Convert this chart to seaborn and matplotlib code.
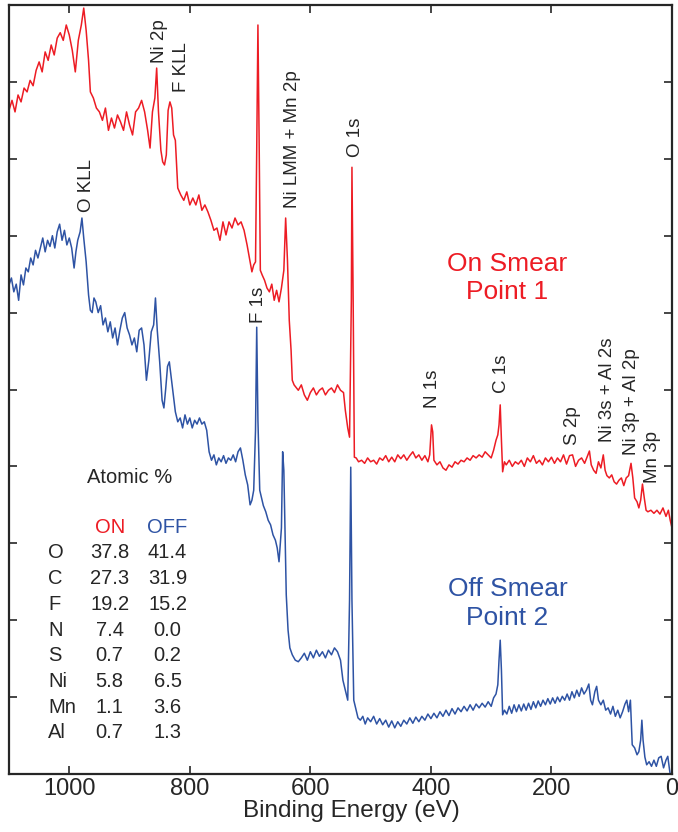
import numpy as np
import pandas as pd
import seaborn as sns
import matplotlib.pyplot as plt

# binding energy (eV) and intensity (arb. units)
on_ev = [1100, 1095, 1090, 1085, 1080, 1075, 1070, 1065, 1060, 1055, 1050, 1045, 1040, 1035, 1030, 1025,
         1020, 1015, 1010, 1005, 1000, 995, 990, 985, 980, 976, 972, 968, 965, 960, 955, 950, 945, 940,
         935, 930, 925, 920, 915, 910, 905, 900, 895, 890, 885, 880, 875, 870, 866, 862, 858, 855, 852,
         848, 845, 842, 839, 836, 833, 830, 827, 824, 820, 815, 810, 805, 800, 795, 790, 785, 780, 775,
         770, 765, 760, 755, 750, 745, 740, 735, 730, 725, 720, 715, 710, 705, 700, 697, 694, 691, 689,
         687, 685, 683, 680, 676, 672, 668, 664, 660, 656, 652, 648, 644, 641, 638, 635, 632, 630, 627,
         620, 615, 610, 605, 600, 595, 590, 585, 580, 575, 570, 565, 560, 555, 550, 545, 542, 538, 535,
         532, 531, 529, 527, 524, 520, 515, 510, 505, 500, 495, 490, 485, 480, 475, 470, 465, 460, 455,
         450, 445, 440, 435, 430, 425, 420, 415, 410, 405, 402, 399, 397, 395, 390, 385, 380, 375, 370,
         365, 360, 355, 350, 345, 340, 335, 330, 325, 320, 315, 310, 305, 300, 296, 292, 289, 287, 285,
         283, 281, 278, 275, 270, 265, 260, 255, 250, 245, 240, 235, 230, 225, 220, 215, 210, 205, 200,
         195, 190, 185, 180, 175, 170, 165, 160, 155, 150, 145, 140, 137, 134, 130, 126, 122, 118, 114,
         111, 108, 104, 100, 96, 92, 88, 84, 80, 76, 72, 68, 65, 62, 58, 55, 52, 49, 46, 43, 40, 35, 30,
         25, 20, 15, 10, 6, 3, 0]
on_int = [8.63, 8.76, 8.61, 8.83, 8.74, 8.92, 8.87, 9.02, 8.95, 9.15, 9.26, 9.13, 9.39, 9.28, 9.48, 9.35,
          9.57, 9.64, 9.54, 9.74, 9.61, 9.41, 9.13, 9.54, 9.74, 9.96, 9.67, 9.28, 8.87, 8.79, 8.66, 8.61,
          8.50, 8.66, 8.37, 8.53, 8.40, 8.57, 8.48, 8.37, 8.61, 8.44, 8.31, 8.61, 8.66, 8.76, 8.61, 8.37,
          8.14, 8.61, 8.79, 9.18, 8.61, 8.11, 7.96, 7.92, 8.05, 8.63, 8.74, 8.66, 8.31, 8.24, 7.62, 7.53,
          7.46, 7.57, 7.40, 7.49, 7.40, 7.53, 7.33, 7.40, 7.31, 7.20, 7.07, 7.10, 6.94, 7.18, 7.01, 7.18,
          7.10, 7.23, 7.14, 7.18, 7.07, 6.88, 6.66, 6.53, 6.62, 6.66, 8.11, 9.74, 8.24, 6.55, 6.49, 6.42,
          6.32, 6.27, 6.37, 6.16, 6.29, 6.14, 6.32, 6.55, 7.23, 6.68, 5.90, 5.51, 5.12, 5.06, 4.99, 5.06,
          4.93, 4.86, 4.96, 5.02, 4.93, 4.99, 5.02, 4.93, 4.99, 5.02, 4.96, 5.06, 4.99, 4.96, 4.73, 4.50,
          4.38, 6.16, 7.89, 6.16, 4.12, 4.11, 4.06, 4.08, 4.04, 4.11, 4.06, 4.08, 4.03, 4.11, 4.08, 4.14,
          4.06, 4.12, 4.06, 4.15, 4.10, 4.15, 4.08, 4.14, 4.19, 4.11, 4.15, 4.08, 4.14, 4.06, 4.15, 4.54,
          4.45, 4.08, 4.02, 4.06, 3.98, 3.95, 4.02, 3.99, 4.06, 4.03, 4.08, 4.06, 4.11, 4.08, 4.14, 4.11,
          4.15, 4.12, 4.19, 4.15, 4.11, 4.21, 4.34, 4.41, 4.54, 4.80, 4.34, 3.93, 4.06, 4.02, 4.08, 4.00,
          4.06, 4.03, 4.08, 4.00, 4.11, 4.06, 4.14, 4.04, 4.08, 4.02, 4.11, 4.06, 4.12, 4.04, 4.11, 4.06,
          4.15, 4.03, 4.14, 4.15, 4.00, 4.08, 4.11, 4.04, 4.14, 4.20, 4.02, 3.95, 3.91, 4.06, 3.98, 4.15,
          3.95, 3.88, 3.85, 3.89, 3.80, 3.77, 3.82, 3.85, 3.75, 3.85, 3.88, 4.04, 3.85, 3.59, 3.54, 3.46,
          3.56, 3.77, 3.59, 3.43, 3.41, 3.43, 3.39, 3.43, 3.38, 3.46, 3.35, 3.43, 3.30, 3.20]

off_ev = [1100, 1096, 1092, 1088, 1084, 1080, 1076, 1072, 1068, 1064, 1060, 1056, 1052, 1048, 1044, 1040,
          1036, 1032, 1028, 1024, 1020, 1016, 1012, 1008, 1004, 1000, 996, 992, 989, 986, 982, 979, 976,
          972, 968, 965, 962, 959, 956, 952, 948, 944, 940, 936, 932, 928, 924, 920, 916, 912, 908, 904,
          900, 896, 892, 888, 884, 880, 876, 872, 868, 864, 860, 857, 854, 850, 846, 843, 840, 837, 834,
          831, 828, 824, 820, 816, 812, 808, 804, 800, 796, 792, 788, 784, 780, 776, 772, 768, 764, 760,
          756, 752, 748, 744, 740, 736, 732, 728, 724, 720, 716, 712, 708, 704, 700, 697, 694, 691, 689,
          687, 684, 681, 678, 674, 670, 666, 662, 658, 655, 652, 650, 648, 646, 644, 642, 640, 637, 634,
          630, 625, 620, 615, 610, 605, 600, 595, 590, 585, 580, 575, 570, 565, 560, 555, 550, 546, 542,
          538, 535, 533, 531, 528, 525, 521, 517, 513, 509, 505, 500, 495, 490, 485, 480, 475, 470, 465,
          460, 455, 450, 445, 440, 435, 430, 425, 420, 415, 410, 405, 400, 395, 390, 385, 380, 375, 370,
          365, 360, 355, 350, 345, 340, 335, 330, 325, 320, 315, 310, 305, 300, 296, 292, 289, 287, 285,
          283, 281, 278, 274, 270, 266, 262, 258, 254, 250, 246, 242, 238, 234, 230, 226, 222, 218, 214,
          210, 206, 202, 198, 194, 190, 186, 182, 178, 174, 170, 166, 162, 158, 154, 150, 146, 142, 138,
          135, 132, 128, 125, 122, 118, 114, 110, 106, 102, 98, 94, 90, 86, 82, 78, 75, 72, 69, 66, 62,
          58, 55, 52, 50, 48, 45, 42, 38, 34, 30, 26, 22, 18, 14, 10, 7, 4, 2, 0]
off_int = [6.36, 6.45, 6.27, 6.37, 6.16, 6.49, 6.36, 6.58, 6.53, 6.71, 6.62, 6.81, 6.71, 6.84, 6.97, 6.79,
           6.94, 6.86, 7.00, 6.84, 7.05, 7.15, 6.94, 7.07, 6.88, 6.97, 6.84, 6.58, 6.79, 6.94, 7.05, 7.23,
           6.97, 6.66, 6.23, 6.03, 6.00, 6.19, 6.14, 6.00, 6.09, 5.84, 5.93, 5.75, 5.88, 5.67, 5.80, 5.58,
           5.77, 5.93, 6.00, 5.80, 5.71, 5.58, 5.67, 5.49, 5.77, 5.80, 5.58, 5.12, 5.38, 5.75, 5.84, 6.19,
           5.77, 5.36, 4.86, 4.76, 5.01, 5.30, 5.36, 5.17, 4.97, 4.71, 4.58, 4.63, 4.50, 4.67, 4.55, 4.63,
           4.50, 4.60, 4.55, 4.63, 4.55, 4.58, 4.47, 4.19, 4.08, 4.15, 4.02, 4.11, 4.06, 4.14, 4.04, 4.11,
           4.08, 4.15, 4.06, 4.19, 4.24, 4.08, 3.89, 3.76, 3.50, 3.56, 3.69, 4.47, 5.81, 4.60, 3.69, 3.59,
           3.49, 3.41, 3.30, 3.24, 3.11, 3.04, 2.94, 2.76, 2.98, 3.20, 4.19, 3.95, 3.17, 2.33, 1.87, 1.64,
           1.55, 1.48, 1.46, 1.51, 1.57, 1.48, 1.59, 1.51, 1.61, 1.53, 1.59, 1.51, 1.61, 1.55, 1.64, 1.59,
           1.48, 1.22, 1.09, 0.96, 2.26, 3.99, 2.26, 0.96, 0.86, 0.73, 0.70, 0.75, 0.65, 0.73, 0.68, 0.75,
           0.65, 0.72, 0.64, 0.70, 0.61, 0.69, 0.60, 0.68, 0.62, 0.70, 0.65, 0.73, 0.66, 0.74, 0.68, 0.75,
           0.70, 0.78, 0.72, 0.79, 0.73, 0.81, 0.75, 0.83, 0.76, 0.85, 0.78, 0.86, 0.81, 0.88, 0.82, 0.90,
           0.83, 0.91, 0.86, 0.92, 0.87, 0.94, 0.88, 0.99, 1.04, 1.16, 1.48, 1.74, 1.35, 0.77, 0.83, 0.78,
           0.88, 0.79, 0.90, 0.81, 0.90, 0.82, 0.91, 0.83, 0.92, 0.84, 0.94, 0.86, 0.95, 0.88, 0.96, 0.90,
           0.98, 0.91, 0.99, 0.92, 1.00, 0.94, 1.01, 0.96, 1.04, 0.96, 1.07, 0.99, 1.09, 1.01, 1.12, 1.04,
           1.09, 1.17, 0.96, 0.90, 1.07, 1.14, 0.96, 0.90, 0.96, 0.83, 0.86, 0.78, 0.88, 0.75, 0.83, 0.73,
           0.81, 0.91, 0.96, 0.81, 0.96, 0.38, 0.34, 0.25, 0.29, 0.44, 0.70, 0.44, 0.22, 0.12, 0.16, 0.10,
           0.18, 0.10, 0.21, 0.23, 0.08, 0.18, 0.23, 0.05, -0.05, -0.14]

# peak labels: (text, eV, bottom of label)
peak_names = ["O KLL", "Ni 2p", "F KLL", "Ni LMM + Mn 2p", "O 1s", "F 1s", "N 1s", "C 1s",
              "S 2p", "Ni 3s + Al 2s", "Ni 3p + Al 2p", "Mn 3p"]
peak_ev = [972, 850, 813, 630, 525, 686, 398, 283, 165, 107, 67, 32]
peak_base = [7.31, 9.25, 8.87, 7.36, 8.02, 5.86, 4.76, 4.95, 4.28, 4.32, 4.15, 3.78]

# atomic % table
elements = ["O", "C", "F", "N", "S", "Ni", "Mn", "Al"]
on_pct = ["37.8", "27.3", "19.2", "7.4", "0.7", "5.8", "1.1", "0.7"]
off_pct = ["41.4", "31.9", "15.2", "0.0", "0.2", "6.5", "3.6", "1.3"]

red = "#ED1C24"
blue = "#2E53A4"

sns.set_style("ticks")
plt.rcParams['font.family'] = ['Liberation Sans', 'DejaVu Sans']

on_df = pd.DataFrame({"ev": on_ev, "counts": on_int})
off_df = pd.DataFrame({"ev": off_ev, "counts": off_int})

fig = plt.figure(figsize=(6.78, 8.32), dpi=100)
ax = fig.add_axes([9/678, 58/832, 663/678, 769/832])

sns.lineplot(data=on_df, x="ev", y="counts", color=red, lw=1.1, estimator=None, ax=ax)
sns.lineplot(data=off_df, x="ev", y="counts", color=blue, lw=1.1, estimator=None, ax=ax)

ax.set_xlim(1100, 0)
ax.set_ylim(0, 10)
ax.set_xticks([1000, 800, 600, 400, 200, 0])
ax.set_yticks(np.arange(1, 10))
ax.set_yticklabels([])
ax.set_ylabel("")
ax.tick_params(direction="in", top=True, right=True, length=6, width=1.2,
               labelsize=17, pad=3)
ax.tick_params(axis="y", labelleft=False)
for s in ax.spines.values():
    s.set_linewidth(1.6)
ax.set_xlabel("Binding Energy (eV)", fontsize=17.5, labelpad=0, x=0.517)

for name, ev, yb in zip(peak_names, peak_ev, peak_base):
    ax.text(ev, yb, name, rotation=90, ha="center", va="bottom", fontsize=13.5)

ax.text(273, 6.45, "On Smear\nPoint 1", color=red, fontsize=19, ha="center", va="center",
        multialignment="center", linespacing=1.25)
ax.text(273, 2.22, "Off Smear\nPoint 2", color=blue, fontsize=19, ha="center", va="center",
        multialignment="center", linespacing=1.25)

ax.text(900, 3.86, "Atomic %", fontsize=14.5, ha="center", va="center")
ax.text(933, 3.21, "ON", color=red, fontsize=14.5, ha="center", va="center")
ax.text(837, 3.21, "OFF", color=blue, fontsize=14.5, ha="center", va="center")
for i, (el, a, b) in enumerate(zip(elements, on_pct, off_pct)):
    yy = 2.874 - 0.334 * i
    ax.text(1035, yy, el, fontsize=14.5, ha="left", va="center")
    ax.text(933, yy, a, fontsize=14.5, ha="center", va="center")
    ax.text(837, yy, b, fontsize=14.5, ha="center", va="center")

fig.savefig("out.png", dpi=100)
